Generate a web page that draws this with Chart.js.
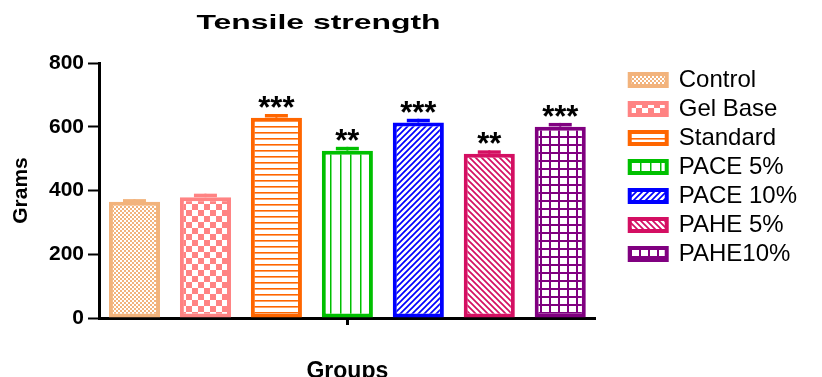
<!DOCTYPE html>
<html>
<head>
<meta charset="utf-8">
<title>Tensile strength</title>
<script src="https://cdn.jsdelivr.net/npm/chart.js@4.4.1/dist/chart.umd.min.js"></script>
<style>
  html, body { margin: 0; padding: 0; background: #fff; }
  #wrap { position: relative; width: 822px; height: 377px; }
</style>
</head>
<body>
<div id="wrap"><canvas id="tensileChart"></canvas></div>
<script>
const groups = ["Control", "Gel Base", "Standard", "PACE 5%", "PACE 10%", "PAHE 5%", "PAHE10%"];
const means = [365, 379, 628, 525, 613, 515, 600];
const errors = [8, 11, 12, 12, 12, 11, 12];
const stars = ["", "", "***", "**", "***", "**", "***"];
const colors = ["#F2B37C", "#FF8383", "#FF6600", "#00C000", "#0000FF", "#D40F62", "#800080"];
const fills = ["fine", "checker", "hlines", "vlines", "diagUp", "diagDown", "grid"];
const yTicks = [0, 200, 400, 600, 800];

const canvas = document.getElementById("tensileChart");

function makePattern(kind, color) {
  const c = document.createElement("canvas");
  const g = c.getContext("2d");
  let w = 8, h = 8;
  if (kind == "fine") { w = 4; h = 4; }
  if (kind == "checker") { w = 12; h = 12; }
  if (kind == "hlines") { w = 4; h = 6; }
  if (kind == "vlines") { w = 10; h = 4; }
  if (kind == "diagUp" || kind == "diagDown") { w = 6; h = 6; }
  if (kind == "grid") { w = 9; h = 8; }
  c.width = w;
  c.height = h;
  g.fillStyle = "#fff";
  g.fillRect(0, 0, w, h);
  g.fillStyle = color;
  g.strokeStyle = color;
  if (kind == "fine") {
    g.fillRect(0, 0, 4, 4);
    g.fillStyle = "#fff";
    g.fillRect(0, 0, 2, 2);
    g.fillRect(2, 2, 2, 2);
  } else if (kind == "checker") {
    g.fillRect(0, 0, 6, 6);
    g.fillRect(6, 6, 6, 6);
  } else if (kind == "hlines") {
    g.fillRect(0, 0, w, 1);
    g.globalAlpha = 0.6;
    g.fillRect(0, 1, w, 1);
  } else if (kind == "vlines") {
    g.fillRect(0, 0, 1, h);
    g.globalAlpha = 0.5;
    g.fillRect(1, 0, 1, h);
  } else if (kind == "diagUp") {
    g.lineWidth = 1.7;
    g.beginPath();
    g.moveTo(-1, 7); g.lineTo(7, -1);
    g.moveTo(-1, 1); g.lineTo(1, -1);
    g.moveTo(5, 7); g.lineTo(7, 5);
    g.stroke();
  } else if (kind == "diagDown") {
    g.lineWidth = 1.7;
    g.beginPath();
    g.moveTo(-1, -1); g.lineTo(7, 7);
    g.moveTo(5, -1); g.lineTo(7, 1);
    g.moveTo(-1, 5); g.lineTo(1, 7);
    g.stroke();
  }
  if (kind == "grid") {
    g.fillRect(0, 0, w, 2);
    g.fillRect(0, 0, 2, h);
  }
  return canvas.getContext("2d").createPattern(c, "repeat");
}

const datasets = groups.map((name, i) => ({
  label: name,
  data: [means[i]],
  backgroundColor: makePattern(fills[i], colors[i]),
  borderColor: colors[i],
  borderWidth: 4,
  borderSkipped: false,
  barPercentage: 0.72,
  categoryPercentage: 1.0,
}));

// title, error caps and significance stars
const extras = {
  id: "extras",
  afterDatasetsDraw(chart) {
    const ctx = chart.ctx;
    const y = chart.scales.y;
    ctx.save();
    chart.data.datasets.forEach((ds, i) => {
      const bar = chart.getDatasetMeta(i).data[0];
      const top = y.getPixelForValue(means[i] + errors[i]);
      ctx.strokeStyle = colors[i];
      ctx.lineWidth = 2;
      ctx.beginPath();
      ctx.moveTo(bar.x, bar.y);
      ctx.lineTo(bar.x, top);
      ctx.stroke();
      ctx.lineWidth = 3.5;
      ctx.beginPath();
      ctx.moveTo(bar.x - 11.5, top + 1.75);
      ctx.lineTo(bar.x + 11.5, top + 1.75);
      ctx.stroke();
      if (stars[i]) {
        ctx.font = "bold 31px 'Liberation Sans'";
        ctx.fillStyle = "#000";
        ctx.textAlign = "center";
        ctx.textBaseline = "alphabetic";
        const m = ctx.measureText(stars[i]);
        const mid = top - 12;
        ctx.fillText(stars[i], bar.x, mid + (m.actualBoundingBoxAscent - m.actualBoundingBoxDescent) / 2);
      }
    });
    ctx.restore();
  },
  afterDraw(chart) {
    const ctx = chart.ctx;
    ctx.save();
    ctx.translate(318.5, 28.5);
    ctx.scale(1.52, 1);
    ctx.font = "bold 21px 'Liberation Sans'";
    ctx.fillStyle = "#000";
    ctx.textAlign = "center";
    ctx.textBaseline = "alphabetic";
    ctx.fillText("Tensile strength", 0, 0);
    ctx.restore();
  },
};

Chart.defaults.font.family = "'Liberation Sans', Arial, sans-serif";
Chart.defaults.color = "#000";

const tensileChart = new Chart(canvas, {
  type: "bar",
  data: {
    labels: [""],
    datasets: datasets,
  },
  options: {
    responsive: true,
    maintainAspectRatio: false,
    animation: false,
    devicePixelRatio: 1,
    layout: {
      padding: { top: 63, right: 15, bottom: 0, left: 0 },
    },
    plugins: {
      tooltip: { enabled: false },
      legend: {
        position: "right",
        align: "start",
        maxWidth: 240,
        labels: {
          boxWidth: 37,
          boxHeight: 12,
          padding: 5,
          color: "#000",
          font: { size: 24 },
        },
      },
    },
    scales: {
      x: {
        grid: {
          display: true,
          drawOnChartArea: false,
          offset: false,
          tickLength: 7,
          tickWidth: 3,
          tickColor: "#000",
        },
        border: { display: true, color: "#000", width: 3 },
        ticks: { display: false },
        title: {
          display: true,
          text: "Groups",
          font: { size: 23, weight: "bold", lineHeight: 1 },
          padding: { top: 0, bottom: -6 },
        },
        afterFit: (s) => { s.height = 59; },
      },
      y: {
        min: 0,
        max: 800,
        afterBuildTicks: (s) => { s.ticks = yTicks.map((v) => ({ value: v })); },
        grid: {
          display: true,
          drawOnChartArea: false,
          tickLength: 11,
          tickWidth: 2,
          tickColor: "#000",
        },
        border: { display: true, color: "#000", width: 3 },
        ticks: {
          padding: 4,
          font: { size: 21, weight: "bold" },
        },
        title: {
          display: true,
          text: "Grams",
          font: { size: 21, weight: "bold", lineHeight: 1 },
          padding: { top: 11, bottom: 0 },
        },
        afterFit: (s) => { s.width = 99; },
      },
      gap: {
        type: "linear",
        position: "right",
        display: true,
        grid: { display: false, drawTicks: false },
        border: { display: false },
        ticks: { display: false },
        afterFit: (s) => { s.width = 29; },
      },
    },
  },
  plugins: [extras],
});
</script>
</body>
</html>
